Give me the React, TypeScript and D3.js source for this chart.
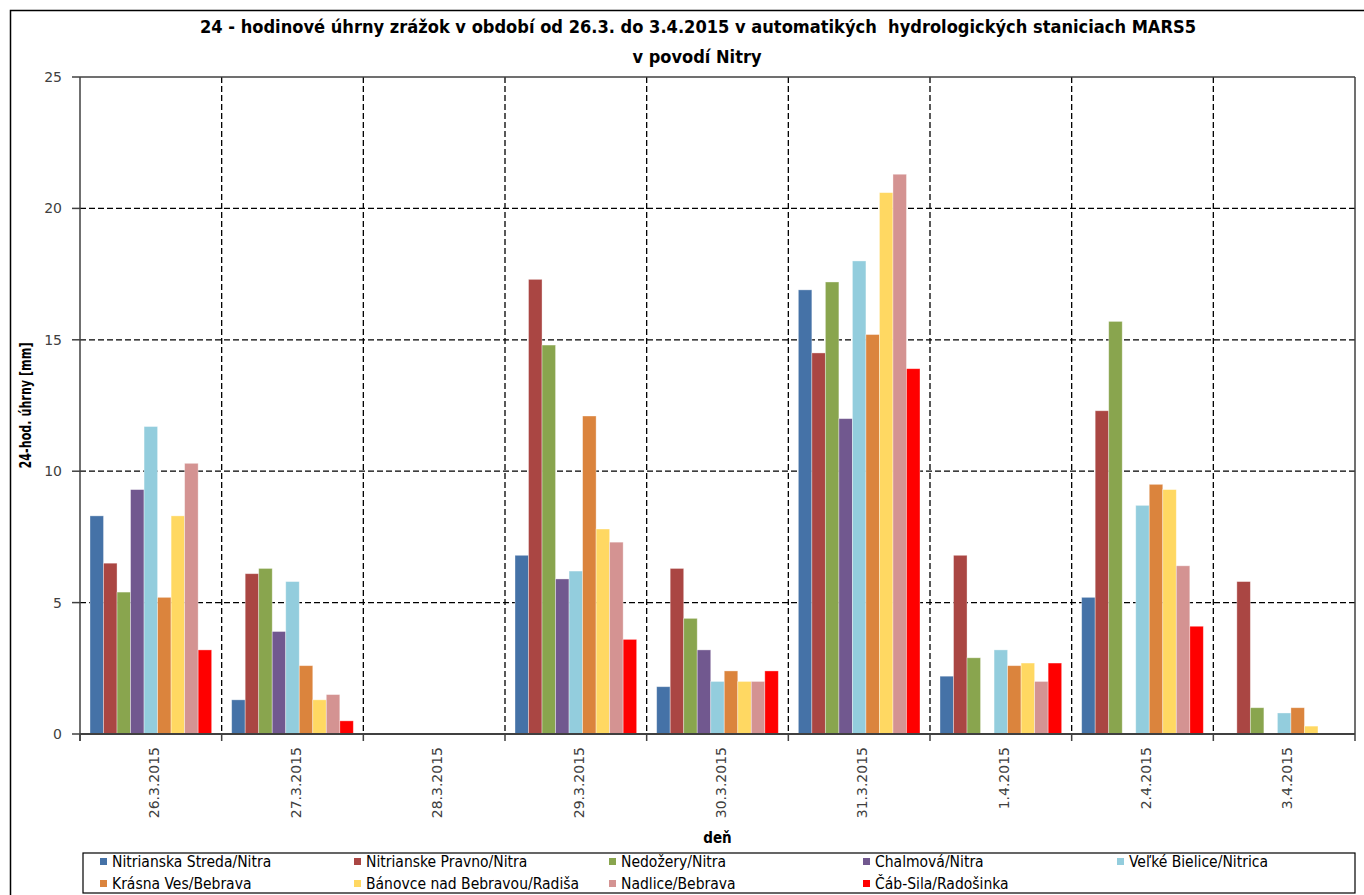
import React from "react";
import * as d3 from "d3";

const days = ["26.3.2015", "27.3.2015", "28.3.2015", "29.3.2015", "30.3.2015", "31.3.2015", "1.4.2015", "2.4.2015", "3.4.2015"];
const stations = [
  "Nitrianska Streda/Nitra",
  "Nitrianske Pravno/Nitra",
  "Nedožery/Nitra",
  "Chalmová/Nitra",
  "Veľké Bielice/Nitrica",
  "Krásna Ves/Bebrava",
  "Bánovce nad Bebravou/Radiša",
  "Nadlice/Bebrava",
  "Čáb-Sila/Radošinka",
];
const colors = ["#4572A7", "#AA4643", "#89A54E", "#71588F", "#93CDDD", "#DB843D", "#FFD862", "#D49392", "#FF0000"];

// values per station, one per day (null = no bar)
const nitrianskaStreda = [8.3, 1.3, null, 6.8, 1.8, 16.9, 2.2, 5.2, null];
const nitrianskePravno = [6.5, 6.1, null, 17.3, 6.3, 14.5, 6.8, 12.3, 5.8];
const nedozery = [5.4, 6.3, null, 14.8, 4.4, 17.2, 2.9, 15.7, 1.0];
const chalmova = [9.3, 3.9, null, 5.9, 3.2, 12.0, null, null, null];
const velkeBielice = [11.7, 5.8, null, 6.2, 2.0, 18.0, 3.2, 8.7, 0.8];
const krasnaVes = [5.2, 2.6, null, 12.1, 2.4, 15.2, 2.6, 9.5, 1.0];
const banovce = [8.3, 1.3, null, 7.8, 2.0, 20.6, 2.7, 9.3, 0.3];
const nadlice = [10.3, 1.5, null, 7.3, 2.0, 21.3, 2.0, 6.4, null];
const cabSila = [3.2, 0.5, null, 3.6, 2.4, 13.9, 2.7, 4.1, null];
const seriesValues = [nitrianskaStreda, nitrianskePravno, nedozery, chalmova, velkeBielice, krasnaVes, banovce, nadlice, cabSila];

const yTicks = [0, 5, 10, 15, 20, 25];

const W = 1364;
const H = 895;
const plot = { left: 80, right: 1355, top: 77, bottom: 734 };
const condensed = "'Liberation Sans Narrow', 'DejaVu Sans Condensed', 'Arial Narrow', sans-serif";
const tickFont = "'DejaVu Sans', Verdana, sans-serif";

export default function App() {
  const x0 = d3.scaleBand<string>().domain(days).range([plot.left, plot.right]).padding(0);
  const x1 = d3
    .scaleBand<number>()
    .domain(d3.range(stations.length))
    .range([0, x0.bandwidth()])
    .paddingInner(0)
    .paddingOuter(0.74);
  const y = d3.scaleLinear().domain([0, 25]).range([plot.bottom, plot.top]);

  const boundaries = days.map((d) => x0(d)!).concat([plot.right]);
  const dash = "6,3";

  const legendCols = [103, 357, 612, 866, 1120];
  const legendRows = [862, 884];

  return (
    <svg
      width={W}
      height={H}
      style={{ position: "absolute", left: 0, top: 0, display: "block", background: "#fff" }}
    >
      <rect x={0} y={0} width={W} height={H} fill="#fff" />
      {/* outer chart border */}
      <rect x={10.5} y={10.5} width={1365} height={900} fill="none" stroke="#000" strokeWidth={1.5} />

      {/* title */}
      <text
        x={698}
        y={33}
        textAnchor="middle"
        fontFamily={condensed}
        fontWeight="bold"
        fontSize={17.5}
        textLength={996}
        lengthAdjust="spacingAndGlyphs"
        style={{ whiteSpace: "pre" }}
        fill="#000"
      >
        24 - hodinové úhrny zrážok v období od 26.3. do 3.4.2015 v automatikých  hydrologických staniciach MARS5
      </text>
      <text
        x={697}
        y={63}
        textAnchor="middle"
        fontFamily={condensed}
        fontWeight="bold"
        fontSize={17.5}
        textLength={129}
        lengthAdjust="spacingAndGlyphs"
        fill="#000"
      >
        v povodí Nitry
      </text>

      {/* horizontal gridlines */}
      {yTicks
        .filter((t) => t > 0 && t < 25)
        .map((t) => (
          <line
            key={"hg" + t}
            x1={plot.left}
            x2={plot.right}
            y1={y(t)}
            y2={y(t)}
            stroke="#000"
            strokeWidth={1.3}
            strokeDasharray={dash}
          />
        ))}
      {/* vertical gridlines */}
      {boundaries.slice(1, -1).map((bx, i) => (
        <line
          key={"vg" + i}
          x1={bx}
          x2={bx}
          y1={plot.top}
          y2={plot.bottom}
          stroke="#000"
          strokeWidth={1.3}
          strokeDasharray={dash}
        />
      ))}

      {/* bars */}
      {seriesValues.map((vals, si) =>
        vals.map((v, di) =>
          v == null ? null : (
            <rect
              key={`b${si}-${di}`}
              x={x0(days[di])! + x1(si)!}
              y={y(v)}
              width={x1.bandwidth()}
              height={y(0) - y(v)}
              fill={colors[si]}
              stroke="#ffffff"
              strokeOpacity={0.45}
              strokeWidth={0.8}
            />
          )
        )
      )}

      {/* plot border top & right */}
      <line x1={plot.left} x2={plot.right} y1={plot.top} y2={plot.top} stroke="#404040" strokeWidth={1.5} />
      <line x1={plot.right} x2={plot.right} y1={plot.top} y2={plot.bottom} stroke="#404040" strokeWidth={1.5} />

      {/* y axis */}
      <line x1={plot.left} x2={plot.left} y1={plot.top} y2={plot.bottom + 7} stroke="#404040" strokeWidth={1.5} />
      {yTicks.map((t) => (
        <g key={"yt" + t}>
          <line x1={plot.left - 8} x2={plot.left} y1={y(t)} y2={y(t)} stroke="#404040" strokeWidth={1.5} />
          <text
            x={plot.left - 18}
            y={y(t) + 5}
            textAnchor="end"
            fontFamily={tickFont}
            fontSize={14}
            fill="#404040"
          >
            {t}
          </text>
        </g>
      ))}

      {/* x axis */}
      <line x1={plot.left} x2={plot.right} y1={plot.bottom} y2={plot.bottom} stroke="#404040" strokeWidth={2} />
      {boundaries.map((bx, i) => (
        <line key={"xt" + i} x1={bx} x2={bx} y1={plot.bottom} y2={plot.bottom + 7} stroke="#404040" strokeWidth={1.5} />
      ))}
      {days.map((d) => {
        const cx = x0(d)! + x0.bandwidth() / 2 + 8;
        const ty = plot.bottom + 13;
        return (
          <text
            key={"xl" + d}
            transform={`translate(${cx},${ty}) rotate(-90)`}
            textAnchor="end"
            fontFamily={tickFont}
            fontSize={14}
            fill="#404040"
          >
            {d}
          </text>
        );
      })}

      {/* axis titles */}
      <text
        transform={`translate(31,${(plot.top + plot.bottom) / 2}) rotate(-90)`}
        textAnchor="middle"
        fontFamily={condensed}
        fontWeight="bold"
        fontSize={15.5}
        textLength={126}
        lengthAdjust="spacingAndGlyphs"
        fill="#000"
      >
        24-hod. úhrny [mm]
      </text>
      <text
        x={(plot.left + plot.right) / 2}
        y={843}
        textAnchor="middle"
        fontFamily={condensed}
        fontWeight="bold"
        fontSize={15}
        fill="#000"
      >
        deň
      </text>

      {/* legend */}
      <rect x={83} y={853} width={1272} height={40} fill="#fff" stroke="#000" strokeWidth={1.2} />
      {stations.map((s, i) => {
        const col = i % 5;
        const row = Math.floor(i / 5);
        const lx = legendCols[col];
        const ly = legendRows[row];
        return (
          <g key={"lg" + i}>
            <rect x={lx - 3} y={ly - 4} width={7} height={7} fill={colors[i]} />
            <text x={lx + 9} y={ly + 5} fontFamily={condensed} fontSize={15.5} fill="#000">
              {s}
            </text>
          </g>
        );
      })}
    </svg>
  );
}
